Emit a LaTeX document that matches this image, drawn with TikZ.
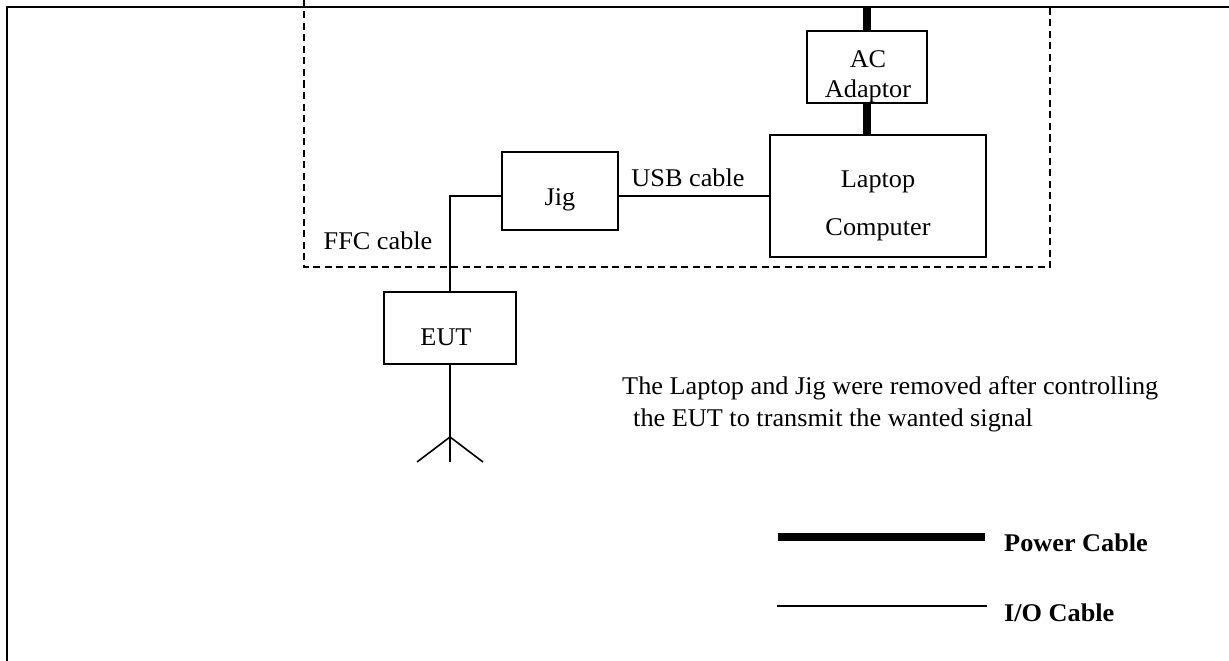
\documentclass[tikz,border=0pt]{standalone}
\usepackage{fontspec}
\setmainfont[FakeStretch=1.03]{Liberation Serif}
\begin{document}
\begin{tikzpicture}[x=1pt,y=-1pt,
  frame/.style={line width=2pt},
  dashbox/.style={line width=1.8pt, dash pattern=on 7pt off 4.5pt},
  box/.style={draw, line width=1.8pt, inner sep=0pt},
  txt/.style={inner sep=0pt, font=\fontsize{25.5}{30}\selectfont},
  btxt/.style={inner sep=0pt, font=\fontsize{25.5}{30}\selectfont\bfseries},
  io/.style={line width=1.6pt},
  power/.style={line width=7.5pt}]
\useasboundingbox (0,0) rectangle (1229,661);
% outer frame
\draw[frame] (7,661) -- (7,7) -- (1229,7);
% dashed enclosure
\draw[dashbox] (304,0) -- (304,267) -- (1050,267) -- (1050,8);
% boxes
\node[box, minimum width=120pt, minimum height=72pt] (ac) at (867,67) {};
\node[box, minimum width=216pt, minimum height=122pt] (lap) at (878,196) {};
\node[box, minimum width=116pt, minimum height=78pt] (jig) at (560,191) {};
\node[box, minimum width=132pt, minimum height=72pt] (eut) at (450,328) {};
% box texts
\node[txt, anchor=base] (actxt) at (868,67) {AC};
\node[txt, anchor=base] (adtxt) at (868,97) {Adaptor};
\node[txt, anchor=base] (laptxt) at (878,187) {Laptop};
\node[txt, anchor=base] (comptxt) at (878,235) {Computer};
\node[txt, anchor=base] (jigtxt) at (560,205) {Jig};
\node[txt, anchor=base] (euttxt) at (446,345) {EUT};
% power cables
\coordinate (ptop) at (ac.north |- 0,6);
\draw[power] (ptop) -- (ac.north);
\draw[power] (ac.south) -- (ac.south |- lap.north);
% USB cable
\draw[io] (jig.east |- lap.west) -- (lap.west);
\node[txt, anchor=base] (usb) at (688,186) {USB cable};
% FFC cable
\draw[io] (jig.west |- lap.west) -| (eut.north);
\node[txt, anchor=base] (ffc) at (378,249) {FFC cable};
% antenna
\coordinate (fork) at (450,437);
\coordinate (antc) at (450,462);
\coordinate (antl) at (417,462);
\coordinate (antr) at (483,462);
\draw[io] (eut.south) -- (antc);
\draw[io] (fork) -- (antl);
\draw[io] (fork) -- (antr);
% note
\node[txt, anchor=base west] (note1) at (622,394) {The Laptop and Jig were removed after controlling};
\node[txt, anchor=base west] (note2) at (633,426) {the EUT to transmit the wanted signal};
% legend
\coordinate (lp1) at (778,537);
\coordinate (lp2) at (985,537);
\draw[power] (lp1) -- (lp2);
\node[btxt, anchor=base west] (lpow) at (1004,551) {Power Cable};
\coordinate (li1) at (777,606);
\coordinate (li2) at (987,606);
\draw[io] (li1) -- (li2);
\node[btxt, anchor=base west] (lio) at (1004,621) {I/O Cable};
\end{tikzpicture}
\end{document}
